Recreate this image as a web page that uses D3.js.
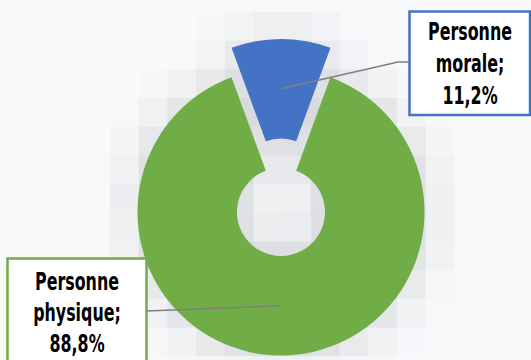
<!DOCTYPE html>
<html>
<head>
<meta charset="utf-8">
<script src="https://cdn.jsdelivr.net/npm/d3@7"></script>
<style>
  html, body { margin: 0; padding: 0; background: #f8f9fb; }
  svg { display: block; }
</style>
</head>
<body>
<svg id="chart" width="531" height="360"></svg>
<script>
// ---- data ----
const categories = ["Personne morale", "Personne physique"];
const values = [11.2, 88.8];
const colors = ["#4472c4", "#70ad47"];

// ---- layout ----
const W = 531, H = 360;
const cx = 281, cy = 212;
const rOuter = 143.5, rInner = 44;
const explode = [29.5, 0];
const bg = "#f8f9fb";

const svg = d3.select("#chart");
svg.append("rect").attr("width", W).attr("height", H).attr("fill", bg);

const total = d3.sum(values);
const startA = -Math.PI * values[0] / total;
const pie = d3.pie().sort(null).startAngle(startA).endAngle(startA + 2 * Math.PI);
const arcs = pie(values);
const arc = d3.arc().innerRadius(rInner).outerRadius(rOuter);

function offsetOf(d, i) {
  const a = (d.startAngle + d.endAngle) / 2;
  return [Math.sin(a) * explode[i], -Math.cos(a) * explode[i]];
}

// ---- pixelated soft shadow ----
function inShape(x, y) {
  for (let i = 0; i < arcs.length; i++) {
    const d = arcs[i];
    const o = offsetOf(d, i);
    const dx = x - (cx + o[0]), dy = y - (cy + o[1]);
    const r = Math.hypot(dx, dy);
    if (r < rInner || r > rOuter) continue;
    let a = Math.atan2(dx, -dy);
    while (a < d.startAngle) a += 2 * Math.PI;
    while (a >= d.startAngle + 2 * Math.PI) a -= 2 * Math.PI;
    if (a >= d.startAngle && a <= d.endAngle) return true;
  }
  return false;
}
const cell = 28.7, gx0 = 110 - cell * 4, gy0 = 11.9 - cell;
const sigma = 25, step = 4, ext = 2.5 * sigma;
const shadeColor = d3.interpolateRgb(bg, "#d2d3d6");
const cells = [];
for (let gy = gy0; gy < H; gy += cell) {
  for (let gx = gx0; gx < W; gx += cell) {
    const mx = gx + cell / 2, my = gy + cell / 2;
    let sw = 0, sc = 0;
    for (let sy = -ext; sy <= ext; sy += step) {
      for (let sx = -ext; sx <= ext; sx += step) {
        const w = Math.exp(-(sx * sx + sy * sy) / (2 * sigma * sigma));
        sw += w;
        if (inShape(mx + sx, my + sy)) sc += w;
      }
    }
    const c = sc / sw;
    if (c > 0.02) cells.push({ x: gx, y: gy, c });
  }
}
svg.append("g").selectAll("rect").data(cells).join("rect")
  .attr("x", d => d.x).attr("y", d => d.y)
  .attr("width", cell + 0.5).attr("height", cell + 0.5)
  .attr("fill", d => shadeColor(Math.min(1, d.c * 1.05)));

// ---- donut ----
const g = svg.append("g").attr("transform", `translate(${cx},${cy})`);
g.selectAll("path").data(arcs).join("path")
  .attr("transform", (d, i) => `translate(${offsetOf(d, i)})`)
  .attr("d", arc)
  .attr("fill", (d, i) => colors[i]);

// ---- labels ----
const fmt = v => d3.format(".1f")(v).replace(".", ",") + "%";
function labelLines(i) {
  const words = categories[i].split(" ");
  return [words[0], words.slice(1).join(" ") + ";", fmt(values[i])];
}
const boxes = [
  { x: 409.5, y: 11.5, w: 120.5, h: 103.5, tx: 470, ty: 39.5, lh: 32.3,
    leader: [[398, 62], [409.5, 62]] },
  { x: 7.5, y: 258.5, w: 139, h: 110, tx: 77, ty: 289.5, lh: 31.2,
    leader: [[146.5, 311]] }
];

arcs.forEach((d, i) => {
  const b = boxes[i];
  const o = offsetOf(d, i);
  const c = arc.centroid(d);
  const start = [cx + o[0] + c[0], cy + o[1] + c[1]];
  const pts = [start].concat(b.leader);
  svg.append("path")
    .attr("d", d3.line()(pts))
    .attr("fill", "none").attr("stroke", "#7f7f7f").attr("stroke-width", 1.6);

  svg.append("rect")
    .attr("x", b.x).attr("y", b.y).attr("width", b.w).attr("height", b.h)
    .attr("fill", "#ffffff").attr("stroke", colors[i]).attr("stroke-width", 2.5);

  const tg = svg.append("g");
  const inner = tg.append("g");
  const lines = labelLines(i);
  const texts = inner.selectAll("text").data(lines).join("text")
    .attr("x", 0).attr("y", (t, k) => k * b.lh)
    .attr("text-anchor", "middle")
    .attr("font-family", "'Liberation Sans Narrow', 'DejaVu Sans Condensed', 'Roboto Condensed', sans-serif")
    .attr("font-weight", "bold")
    .attr("font-size", 24)
    .attr("fill", "#000")
    .text(t => t);
  const wP = texts.node().getComputedTextLength();
  const sx = 84 / wP;
  inner.attr("transform", `scale(${sx},1)`);
  tg.attr("transform", `translate(${b.tx},${b.ty})`);
});
</script>
</body>
</html>
